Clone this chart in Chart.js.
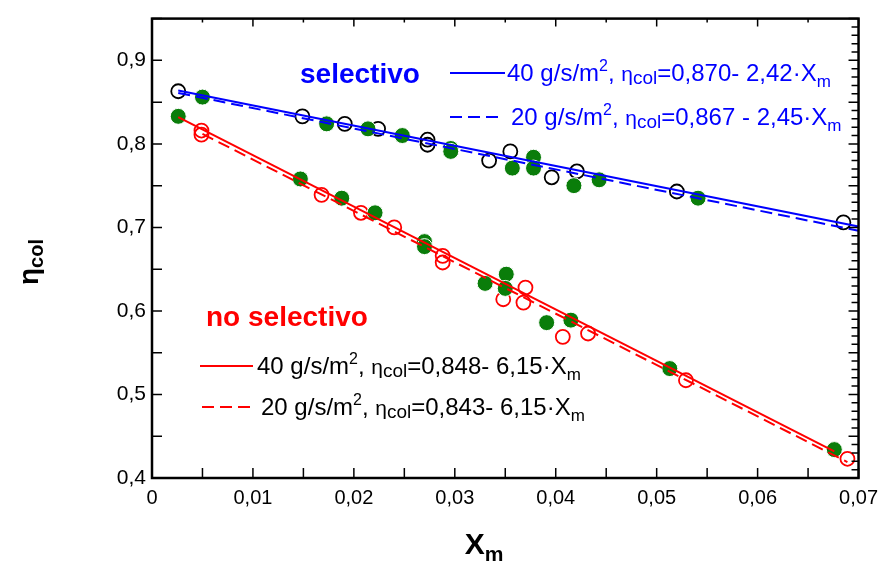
<!DOCTYPE html>
<html>
<head>
<meta charset="utf-8">
<script src="https://cdn.jsdelivr.net/npm/chart.js@4.4.1/dist/chart.umd.min.js"></script>
<style>
  html, body { margin: 0; padding: 0; background: #fff; }
  canvas { display: block; }
</style>
</head>
<body>
<canvas id="chart" width="886" height="565"></canvas>
<script>
// tick labels
const xTickLabels = ['0', '0,01', '0,02', '0,03', '0,04', '0,05', '0,06', '0,07'];
const yTickLabels = ['0,4', '0,5', '0,6', '0,7', '0,8', '0,9'];

// selectivo, 20 g/s/m2 (open black circles)
const selOpenX = [0.0026, 0.0149, 0.0191, 0.0224, 0.0273, 0.0273, 0.0334, 0.0355, 0.0396, 0.0421, 0.0520, 0.0685];
const selOpenY = [0.863, 0.833, 0.824, 0.818, 0.805, 0.799, 0.780, 0.791, 0.760, 0.767, 0.743, 0.706];

// selectivo, 40 g/s/m2 (filled green)
const selFullX = [0.0050, 0.0173, 0.0214, 0.0248, 0.0296, 0.0296, 0.0357, 0.0378, 0.0378, 0.0418, 0.0443, 0.0541];
const selFullY = [0.856, 0.824, 0.818, 0.810, 0.7945, 0.791, 0.771, 0.784, 0.771, 0.750, 0.757, 0.735];

// no selectivo, 40 g/s/m2 (filled green)
const noselFullX = [0.0026, 0.0147, 0.0188, 0.0221, 0.0270, 0.0270, 0.0330, 0.0351, 0.0350, 0.0391, 0.0415, 0.0513, 0.0676];
const noselFullY = [0.833, 0.758, 0.735, 0.7175, 0.683, 0.677, 0.633, 0.644, 0.627, 0.586, 0.589, 0.531, 0.434];

// no selectivo, 20 g/s/m2 (open red circles)
const noselOpenX = [0.0049, 0.0049, 0.0168, 0.0207, 0.0240, 0.0288, 0.0288, 0.0348, 0.0370, 0.0368, 0.0407, 0.0432, 0.0529, 0.0689];
const noselOpenY = [0.816, 0.811, 0.739, 0.7175, 0.700, 0.666, 0.658, 0.614, 0.628, 0.610, 0.569, 0.573, 0.517, 0.423];

// fitted lines, end points
const fitSel40X = [0.0026, 0.07];
const fitSel40Y = [0.864, 0.701];
const fitSel20X = [0.0026, 0.07];
const fitSel20Y = [0.861, 0.696];
const fitNosel40X = [0.0026, 0.0676];
const fitNosel40Y = [0.832, 0.432];
const fitNosel20X = [0.005, 0.0689];
const fitNosel20Y = [0.812, 0.419];

const BLUE = '#0000ff';
const RED = '#ff0000';
const GREEN = '#0a7d0a';
const FONT = "'Liberation Sans', Arial, sans-serif";
const NARROW = "'Liberation Sans Narrow', 'Liberation Sans', Arial, sans-serif";

function pts(xs, ys) {
  return xs.map((x, i) => ({ x: x, y: ys[i] }));
}

function lineSet(xs, ys, color, dash) {
  return {
    data: pts(xs, ys), showLine: true, borderColor: color, borderWidth: 2,
    borderDash: dash, pointRadius: 0, fill: false, order: 0
  };
}

function openSet(xs, ys, color) {
  return {
    data: pts(xs, ys), pointRadius: 7, pointBorderWidth: 1.8,
    pointBorderColor: color, pointBackgroundColor: 'rgba(0,0,0,0)', order: 2
  };
}

function fullSet(xs, ys) {
  return {
    data: pts(xs, ys), pointRadius: 8, pointBorderWidth: 1,
    pointBorderColor: '#fff', pointBackgroundColor: GREEN, order: 1
  };
}

// text made of pieces with sub/superscripts
function richWidth(ctx, parts) {
  let w = 0;
  parts.forEach(p => {
    ctx.font = (p.b ? 'bold ' : '') + p.s + 'px ' + (p.f || FONT);
    w += ctx.measureText(p.t).width;
  });
  return w;
}
function rich(ctx, x, y, parts, color) {
  ctx.fillStyle = color;
  ctx.textBaseline = 'alphabetic';
  ctx.textAlign = 'left';
  parts.forEach(p => {
    ctx.font = (p.b ? 'bold ' : '') + p.s + 'px ' + (p.f || FONT);
    ctx.fillText(p.t, x, y + (p.dy || 0));
    x += ctx.measureText(p.t).width;
  });
}

function eqParts(g, eq) {
  return [
    { t: g + ' g/s/m', s: 24 }, { t: '2', s: 16, dy: -10 }, { t: ', ', s: 24 },
    { t: 'η', s: 21 }, { t: 'col', s: 19, dy: 3 }, { t: eq, s: 24 }, { t: 'm', s: 17, dy: 6 }
  ];
}

function sample(ctx, x1, x2, y, color, dash) {
  ctx.save();
  ctx.strokeStyle = color;
  ctx.lineWidth = 2;
  ctx.setLineDash(dash);
  ctx.beginPath();
  ctx.moveTo(x1, y);
  ctx.lineTo(x2, y);
  ctx.stroke();
  ctx.restore();
}

const framePlugin = {
  id: 'frame',
  afterDatasetsDraw(chart) {
    const { ctx, chartArea: a, scales: { x, y } } = chart;
    ctx.save();
    ctx.strokeStyle = '#000';
    ctx.lineWidth = 1.5;
    ctx.beginPath();
    for (let i = 0; i <= 14; i++) {
      const px = x.getPixelForValue(i * 0.005);
      ctx.moveTo(px, a.bottom); ctx.lineTo(px, a.bottom - 10);
      const tl = i % 2 === 0 ? 8 : 4;
      ctx.moveTo(px, a.top); ctx.lineTo(px, a.top + tl);
    }
    for (let i = 0; i <= 11; i++) {
      const py = y.getPixelForValue(0.4 + i * 0.05);
      ctx.moveTo(a.left, py); ctx.lineTo(a.left + 10, py);
    }
    for (let i = 0; i <= 55; i++) {
      const py = y.getPixelForValue(0.4 + i * 0.01);
      const tl = i % 5 === 0 ? 10 : 7;
      ctx.moveTo(a.right, py); ctx.lineTo(a.right - tl, py);
    }
    ctx.stroke();
    ctx.lineWidth = 2.5;
    ctx.strokeRect(a.left, a.top, a.right - a.left, a.bottom - a.top);
    ctx.restore();

    // group labels and equations
    ctx.save();
    ctx.font = 'bold 28px ' + FONT;
    ctx.fillStyle = BLUE;
    ctx.fillText('selectivo', 300, 83);
    sample(ctx, 450, 505, 73, BLUE, []);
    rich(ctx, 507, 81, eqParts('40', '=0,870- 2,42·X'), BLUE);
    sample(ctx, 450, 502, 117, BLUE, [12, 6]);
    rich(ctx, 511, 125, eqParts('20', '=0,867 - 2,45·X'), BLUE);

    ctx.font = 'bold 28px ' + FONT;
    ctx.fillStyle = RED;
    ctx.fillText('no selectivo', 206, 326);
    sample(ctx, 200, 253, 366, RED, []);
    rich(ctx, 257, 374, eqParts('40', '=0,848- 6,15·X'), '#000');
    sample(ctx, 202, 252, 407, RED, [12, 6]);
    rich(ctx, 261, 415, eqParts('20', '=0,843- 6,15·X'), '#000');

    // axis titles
    const xt = [{ t: 'X', s: 30, b: true, f: NARROW }, { t: 'm', s: 21, b: true, f: NARROW, dy: 7 }];
    rich(ctx, 484 - richWidth(ctx, xt) / 2, 554, xt, '#000');
    const yt = [{ t: 'η', s: 28, b: true }, { t: 'col', s: 20, b: true, dy: 5 }];
    ctx.translate(38, 262);
    ctx.rotate(-Math.PI / 2);
    rich(ctx, -richWidth(ctx, yt) / 2, 0, yt, '#000');
    ctx.restore();
  }
};

new Chart(document.getElementById('chart').getContext('2d'), {
  type: 'scatter',
  data: {
    datasets: [
      lineSet(fitSel40X, fitSel40Y, BLUE, []),
      lineSet(fitSel20X, fitSel20Y, BLUE, [12, 6]),
      lineSet(fitNosel40X, fitNosel40Y, RED, []),
      lineSet(fitNosel20X, fitNosel20Y, RED, [12, 6]),
      fullSet(selFullX, selFullY),
      fullSet(noselFullX, noselFullY),
      openSet(selOpenX, selOpenY, '#000'),
      openSet(noselOpenX, noselOpenY, RED)
    ]
  },
  options: {
    responsive: false,
    animation: false,
    devicePixelRatio: 1,
    layout: { padding: { top: 13, right: 20, left: 0, bottom: 0 } },
    plugins: { legend: { display: false }, tooltip: { enabled: false } },
    scales: {
      x: {
        type: 'linear', min: 0, max: 0.07,
        grid: { display: false, drawTicks: false },
        border: { display: false },
        ticks: {
          stepSize: 0.01, padding: 8, color: '#000',
          font: { family: NARROW, size: 20 },
          callback: (v, i) => xTickLabels[i]
        },
        afterFit: s => { s.height = 87; }
      },
      y: {
        type: 'linear', min: 0.4, max: 0.95,
        grid: { display: false, drawTicks: false },
        border: { display: false },
        ticks: {
          stepSize: 0.05, padding: 6, color: '#000',
          font: { family: FONT, size: 21 },
          callback: (v, i) => (i % 2 === 0 ? yTickLabels[i / 2] : '')
        },
        afterFit: s => { s.width = 152; }
      }
    }
  },
  plugins: [framePlugin]
});
</script>
</body>
</html>
